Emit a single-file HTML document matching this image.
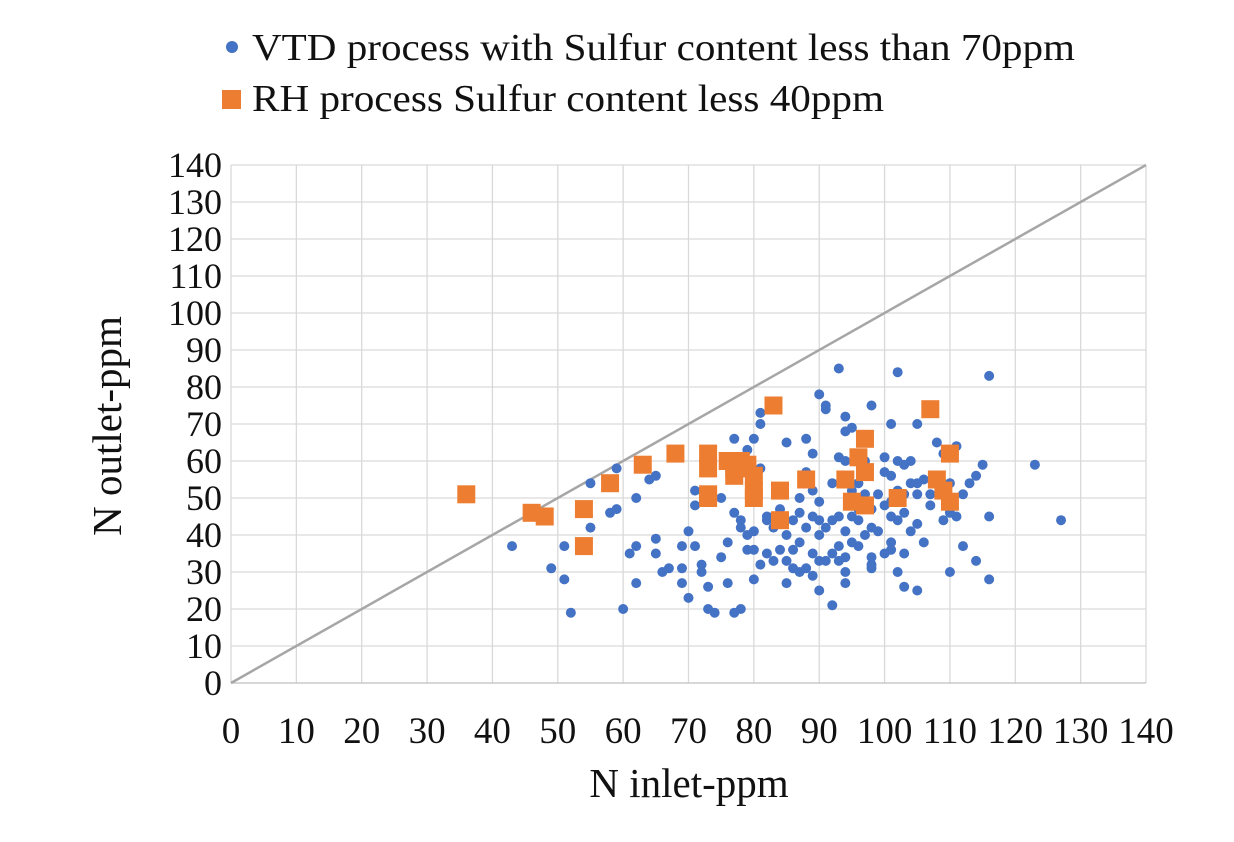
<!DOCTYPE html>
<html><head><meta charset="utf-8"><style>
body{margin:0;background:#fff;width:1234px;height:837px;overflow:hidden}
svg text{font-family:"Liberation Serif",serif;fill:#111}
</style></head><body>
<svg id="chart" width="1234" height="837" xmlns="http://www.w3.org/2000/svg">
<g id="legend">
<g><circle cx="232" cy="47" r="6" fill="#4472c4"/><text x="252" y="60" font-size="38" textLength="823" lengthAdjust="spacingAndGlyphs">VTD process with Sulfur content less than 70ppm</text></g>
<g><rect x="222" y="90" width="19" height="19" fill="#ed7d31"/><text x="252" y="111" font-size="38" textLength="632" lengthAdjust="spacingAndGlyphs">RH process Sulfur content less 40ppm</text></g>
</g>
<g id="grid"></g><g id="ticks"></g><g id="marks"></g>
<text x="689" y="797" font-size="41" text-anchor="middle">N inlet-ppm</text>
<text transform="translate(121,426) rotate(-90)" font-size="41" text-anchor="middle">N outlet-ppm</text>
</svg>
<script>
const xTicks=[0,10,20,30,40,50,60,70,80,90,100,110,120,130,140];
const yTicks=[0,10,20,30,40,50,60,70,80,90,100,110,120,130,140];
const vtdX=[43,49,51,51,52,55,55,58,59,59,60,61,62,62,62,64,65,65,65,66,67,69,69,69,70,70,71,71,71,72,72,73,73,74,75,75,76,76,77,77,77,78,78,78,79,79,79,80,80,80,80,81,81,81,81,82,82,82,83,83,83,84,84,85,85,85,85,86,86,86,87,87,87,87,88,88,88,88,89,89,89,89,89,90,90,90,90,90,90,91,91,91,91,92,92,92,92,93,93,93,93,93,94,94,94,94,94,94,94,95,95,95,95,96,96,96,96,97,97,97,98,98,98,98,98,98,99,99,100,100,100,100,101,101,101,101,101,101,102,102,102,102,102,103,103,103,103,103,104,104,104,105,105,105,105,105,106,106,107,107,108,108,109,109,110,110,110,111,111,112,112,113,114,114,115,116,116,116,123,127];
const vtdY=[37,31,28,37,19,42,54,46,47,58,20,35,27,37,50,55,39,35,56,30,31,27,37,31,23,41,37,48,52,30,32,26,20,19,34,50,27,38,19,46,66,20,42,44,36,40,63,28,36,41,66,32,58,70,73,35,45,44,33,42,45,36,47,27,33,40,65,31,36,44,30,38,46,50,31,42,57,66,29,35,45,52,62,25,33,40,44,49,78,33,42,74,75,21,35,44,54,33,37,45,61,85,27,30,34,41,60,68,72,38,45,52,69,37,44,47,54,40,51,60,32,31,34,42,47,75,41,51,35,48,57,61,36,38,45,49,56,70,30,44,52,60,84,26,35,46,51,59,41,54,60,25,43,51,54,70,38,55,48,51,65,54,44,62,30,46,54,45,64,37,51,54,33,56,59,28,45,83,59,44];
const rhX=[36,46,48,54,54,58,63,68,73,73,73,73,76,77,77,78,79,79,80,80,80,83,84,84,88,94,95,96,97,97,97,102,107,108,109,110,110];
const rhY=[51,46,45,37,47,54,59,62,51,50,58,62,60,56,58,60,58,59,50,52,56,75,44,52,55,55,49,61,57,66,48,50,74,55,52,49,62];
const X0=231,X1=1146,Y0=683,Y1=165;
const sx=v=>X0+(v-0)/140*(X1-X0), sy=v=>Y0-(v-0)/140*(Y0-Y1);
const NS="http://www.w3.org/2000/svg";
function mk(t,a,p){const e=document.createElementNS(NS,t);for(const k in a)e.setAttribute(k,a[k]);p.appendChild(e);return e;}
const grid=document.getElementById('grid'),ticks=document.getElementById('ticks'),marks=document.getElementById('marks');
xTicks.forEach(v=>{
 const l=mk('line',{x1:sx(v),x2:sx(v),y1:Y1,y2:Y0,stroke:'#d9d9d9','stroke-width':1.3},grid);
 
 
 const t=mk('text',{x:sx(v),y:743,'font-size':37,'text-anchor':'middle'},ticks);t.textContent=v;
 
 
});
yTicks.forEach(v=>{
 const l=mk('line',{x1:X0,x2:X1,y1:sy(v),y2:sy(v),stroke:v===0?'#bfbfbf':'#d9d9d9','stroke-width':1.3},grid);
 
 
 const t=mk('text',{x:222,y:sy(v)+12,'font-size':36,'text-anchor':'end'},ticks);t.textContent=v;
 
 
});
const d=mk('line',{x1:sx(0),y1:sy(0),x2:sx(140),y2:sy(140),stroke:'#a6a6a6','stroke-width':2.5},marks);


vtdX.forEach((x,i)=>{
 const c=mk('circle',{cx:sx(x),cy:sy(vtdY[i]),r:5,fill:'#4472c4'},marks);
 
 
});
rhX.forEach((x,i)=>{
 const r=mk('rect',{x:sx(x)-9,y:sy(rhY[i])-9,width:18,height:18,fill:'#ed7d31'},marks);
 
 
});
</script>
</body></html>
